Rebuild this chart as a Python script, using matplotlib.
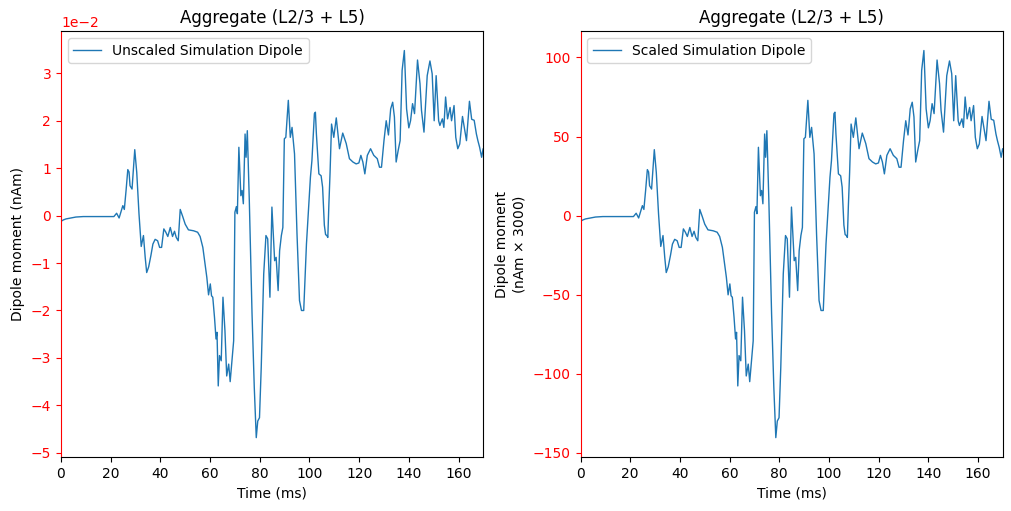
import matplotlib
matplotlib.use('Agg')
import matplotlib.pyplot as plt
import numpy as np

# dipole trace (time in ms, dipole in units of 1e-2 nAm)
times = [0, 1, 2, 4, 6, 9, 15, 21.3, 22.4, 23.4, 24.9, 25.5, 26.2, 26.9, 27.4,
         27.8, 28.6, 29.2, 29.7, 30.5, 31.4, 32.3, 33.2, 33.9, 34.5, 35.3, 36.2,
         37.0, 37.9, 38.9, 39.7, 40.5, 41.4, 42.2, 43.0, 44.0, 44.9, 45.7, 46.4,
         47.2, 48.0, 49.0, 50.0, 51.3, 53.4, 55.0, 56.0, 57.1, 58.0, 58.7, 59.4,
         60.1, 60.6, 61.1, 61.8, 62.4, 62.8, 63.3, 63.8, 64.5, 65.2, 66.0, 66.7,
         67.5, 68.1, 68.8, 69.5, 70.0, 70.6, 71.0, 71.6, 72.4, 72.9, 73.4, 74.1,
         74.5, 75.0, 75.8, 76.9, 77.8, 78.6, 79.2, 79.9, 80.6, 81.6, 82.5, 83.2,
         84.1, 84.9, 86.0, 86.6, 87.4, 88.0, 88.7, 89.3, 89.9, 90.5, 91.5, 92.3,
         93.0, 94.0, 95.0, 96.0, 96.8, 97.7, 98.8, 100.4, 101.0, 102.0, 102.4,
         102.8, 103.8, 104.7, 105.3, 106.0, 106.5, 107.0, 107.4, 107.8, 108.3,
         108.9, 109.8, 110.8, 112.1, 113.4, 114.8, 116.1, 117.5, 118.8, 119.9,
         120.7, 121.5, 122.3, 123.3, 124.6, 125.9, 127.3, 128.2, 129.0, 130.0,
         130.9, 131.8, 132.7, 133.5, 134.2, 134.9, 135.7, 136.5, 137.3, 138.2,
         139.1, 140.0, 140.7, 141.5, 142.3, 143.5, 144.5, 145.1, 146.1, 147.4,
         148.5, 149.4, 150.2, 151.0, 152.0, 152.5, 153.5, 154.1, 154.8, 155.6,
         156.6, 157.2, 158.2, 158.9, 159.7, 160.5, 161.6, 162.4, 163.2, 164.4,
         165.3, 166.3, 167.2, 167.8, 168.5, 169.3, 169.9, 170.5]
dipole = [-0.12, -0.09, -0.07, -0.05, -0.03, -0.02, -0.02, -0.02, 0.05, -0.05,
          0.21, 0.13, 0.53, 0.97, 0.92, 0.63, 0.56, 1.02, 1.39, 0.91, 0.04, -0.65,
          -0.42, -0.88, -1.20, -1.08, -0.84, -0.60, -0.50, -0.53, -0.67, -0.67,
          -0.28, -0.35, -0.44, -0.25, -0.44, -0.33, -0.46, -0.53, 0.13, -0.02,
          -0.18, -0.30, -0.32, -0.35, -0.44, -0.67, -1.02, -1.30, -1.67, -1.44,
          -1.69, -1.72, -2.15, -2.60, -2.46, -3.59, -2.95, -3.06, -1.72, -2.43,
          -3.38, -3.13, -3.50, -3.06, -2.64, 0.07, 0.19, 0.04, 1.44, 0.42, 0.53,
          0.25, 1.72, 1.23, 1.79, 0.32, -2.07, -3.62, -4.68, -4.33, -4.26, -3.20,
          -1.23, -0.42, -0.49, -1.72, 0.18, -0.95, -0.88, -1.58, -0.74, -0.42,
          -0.25, 1.62, 1.65, 2.43, 1.65, 1.86, 1.30, -0.39, -1.79, -2.00, -2.00,
          -0.60, 0.81, 1.16, 2.15, 2.18, 1.72, 0.88, 0.84, 0.60, -0.20, -0.40,
          -0.42, -0.46, 0.20, 0.90, 1.93, 1.65, 2.06, 1.41, 1.74, 1.52, 1.20, 1.13,
          1.09, 1.11, 1.27, 1.13, 0.88, 1.27, 1.41, 1.27, 1.20, 1.02, 1.02, 1.58,
          2.00, 1.70, 2.25, 2.39, 2.08, 1.13, 1.37, 1.58, 3.06, 3.48, 2.25, 1.85,
          2.00, 2.36, 2.15, 3.28, 2.78, 2.22, 1.76, 2.95, 3.26, 2.99, 2.00, 2.95,
          2.00, 1.90, 2.04, 1.86, 2.50, 2.04, 2.28, 2.00, 2.32, 1.65, 1.41, 1.51,
          2.09, 1.83, 1.58, 2.41, 2.03, 2.01, 1.72, 1.58, 1.44, 1.23, 1.41, 1.30]
scaling = 3000

t = np.array(times)
dpl = np.array(dipole) * 1e-2

fig, axes = plt.subplots(1, 2, figsize=(10.11, 5.11), dpi=100)
plt.subplots_adjust(left=0.0603, right=0.992, top=0.939, bottom=0.1057, wspace=0.23)

ax = axes[0]
ax.plot(t, dpl, color='C0', lw=1, label='Unscaled Simulation Dipole')
ax.set_ylabel('Dipole moment (nAm)')
ax.ticklabel_format(axis='y', style='sci', scilimits=(-2, -2))
ax.yaxis.get_offset_text().set_color('red')

ax = axes[1]
ax.plot(t, dpl * scaling, color='C0', lw=1, label='Scaled Simulation Dipole')
ax.set_ylabel('Dipole moment\n(nAm $\\times$ %d)' % scaling)

for ax in axes:
    ax.set_xlim(0, 170)
    ax.set_xlabel('Time (ms)')
    ax.set_title('Aggregate (L2/3 + L5)')
    ax.tick_params(axis='y', colors='red')
    ax.spines['left'].set_color('red')
    ax.legend(loc='upper left')

plt.savefig('out.png', dpi=100)
